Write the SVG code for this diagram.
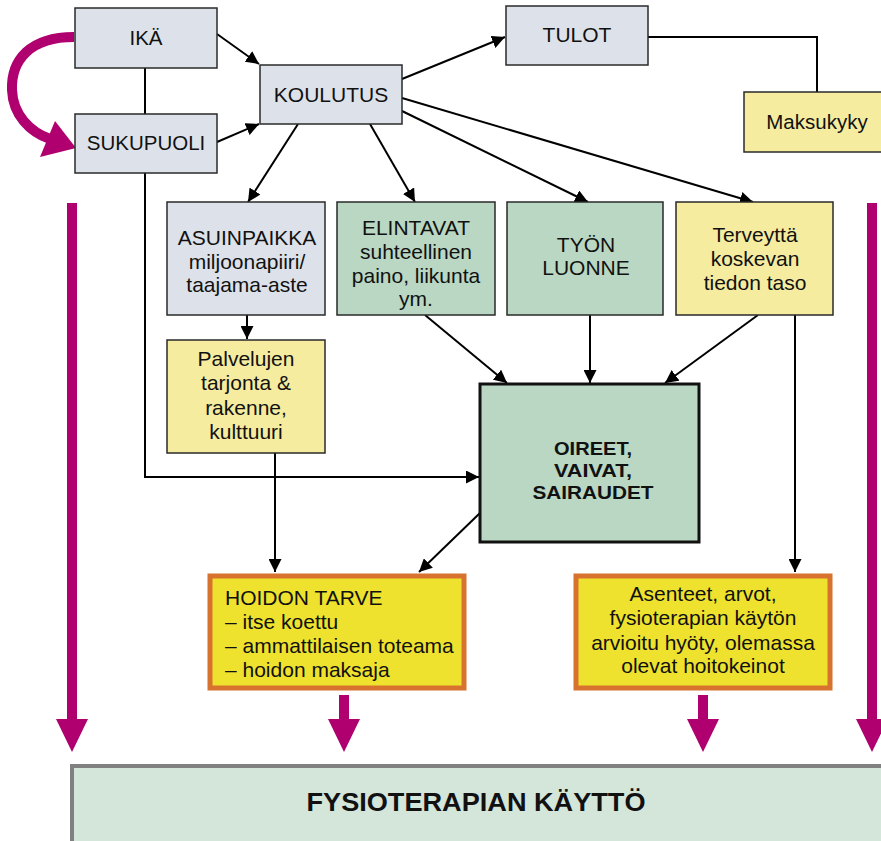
<svg xmlns="http://www.w3.org/2000/svg" width="881" height="841" viewBox="0 0 881 841">
<defs>
<style>
.box{stroke:#2a2a2a;stroke-width:1.5}
.blue{fill:#dde2ea}
.green{fill:#b9d7c2}
.pale{fill:#f5eca0}
.hot{fill:#eee22e;stroke:#d8732f;stroke-width:5}
.t{font-family:"Liberation Sans",Arial,sans-serif;font-size:21px;fill:#111;text-anchor:middle}
.s{font-size:20.5px}
.tl{text-anchor:start}
.b{font-weight:bold;font-size:19px}
.c{fill:none;stroke:#000;stroke-width:2}
.m{fill:none;stroke:#b0006f;stroke-width:10}
.mh{fill:#b0006f}
</style>
<marker id="ah" viewBox="0 0 10 10" refX="10" refY="5" markerWidth="6.5" markerHeight="6.5" markerUnits="strokeWidth" orient="auto">
<path d="M0,0 L10,5 L0,10 z" fill="#000"/>
</marker>
</defs>

<g id="connectors">
<line class="c" x1="217" y1="34" x2="259" y2="64" marker-end="url(#ah)"/>
<line class="c" x1="217" y1="142" x2="259" y2="124" marker-end="url(#ah)"/>
<line class="c" x1="145" y1="68" x2="145" y2="114"/>
<polyline class="c" points="145,173 145,477 479,477" marker-end="url(#ah)"/>
<line class="c" x1="298" y1="124" x2="248" y2="202" marker-end="url(#ah)"/>
<line class="c" x1="370" y1="124" x2="415" y2="202" marker-end="url(#ah)"/>
<line class="c" x1="402" y1="111" x2="588" y2="202" marker-end="url(#ah)"/>
<line class="c" x1="402" y1="98" x2="753" y2="202" marker-end="url(#ah)"/>
<line class="c" x1="402" y1="79" x2="505" y2="37" marker-end="url(#ah)"/>
<polyline class="c" points="648,37 817,37 817,92"/>
<line class="c" x1="247" y1="315" x2="247" y2="339" marker-end="url(#ah)"/>
<line class="c" x1="425" y1="315" x2="507" y2="383" marker-end="url(#ah)"/>
<line class="c" x1="590" y1="315" x2="590" y2="383" marker-end="url(#ah)"/>
<line class="c" x1="758" y1="315" x2="665" y2="383" marker-end="url(#ah)"/>
<line class="c" x1="795" y1="315" x2="795" y2="572" marker-end="url(#ah)"/>
<line class="c" x1="275" y1="453" x2="275" y2="572" marker-end="url(#ah)"/>
<line class="c" x1="480" y1="513" x2="419" y2="572" marker-end="url(#ah)"/>
<!-- magenta arrows -->
<path class="m" d="M74,37 C30,37 11,60 12,90 C13,115 30,132 50,139"/>
<polygon class="mh" points="76,148 40,157 55,121"/>
<line class="m" x1="72" y1="203" x2="72" y2="722"/>
<polygon class="mh" points="56,719 88,719 72,752"/>
<line class="m" x1="872" y1="203" x2="872" y2="722"/>
<polygon class="mh" points="856,719 888,719 872,752"/>
<line class="m" x1="344" y1="695" x2="344" y2="722"/>
<polygon class="mh" points="328,719 360,719 344,752"/>
<line class="m" x1="703" y1="695" x2="703" y2="722"/>
<polygon class="mh" points="687,719 719,719 703,752"/>
</g>

<g id="ika"><rect class="box blue" x="75" y="8" width="142" height="60"/><text class="t s" x="146" y="45">IKÄ</text></g>
<g id="sukupuoli"><rect class="box blue" x="75" y="114" width="142" height="59"/><text class="t s" x="146" y="150">SUKUPUOLI</text></g>
<g id="koulutus"><rect class="box blue" x="260" y="65" width="142" height="59"/><text class="t" x="331" y="102">KOULUTUS</text></g>
<g id="tulot"><rect class="box blue" x="506" y="6" width="142" height="59"/><text class="t" x="577" y="42">TULOT</text></g>
<g id="maksukyky"><rect class="box pale" x="744" y="92" width="140" height="60"/><text class="t s" x="817" y="129">Maksukyky</text></g>

<g id="asuinpaikka"><rect class="box blue" x="167" y="202" width="158" height="113"/>
<text class="t" x="247" y="245">ASUINPAIKKA</text><text class="t" x="247" y="269">miljoonapiiri/</text><text class="t" x="247" y="292">taajama-aste</text></g>
<g id="elintavat"><rect class="box green" x="337" y="202" width="158" height="113"/>
<text class="t" x="416" y="235">ELINTAVAT</text><text class="t" x="416" y="259">suhteellinen</text><text class="t" x="416" y="283">paino, liikunta</text><text class="t" x="416" y="306">ym.</text></g>
<g id="tyon"><rect class="box green" x="507" y="202" width="156" height="113"/>
<text class="t" x="586" y="252">TYÖN</text><text class="t" x="586" y="275">LUONNE</text></g>
<g id="terveytta"><rect class="box pale" x="676" y="202" width="157" height="113"/>
<text class="t" x="755" y="242">Terveyttä</text><text class="t" x="755" y="266">koskevan</text><text class="t" x="755" y="290">tiedon taso</text></g>

<g id="palvelujen"><rect class="box pale" x="167" y="340" width="158" height="113"/>
<text class="t" x="246" y="366">Palvelujen</text><text class="t" x="246" y="390">tarjonta &amp;</text><text class="t" x="246" y="415">rakenne,</text><text class="t" x="246" y="439">kulttuuri</text></g>

<g id="oireet"><rect x="480" y="384" width="219" height="158" fill="#b9d7c2" stroke="#111" stroke-width="3"/>
<text class="t b" x="593" y="455" textLength="78" lengthAdjust="spacingAndGlyphs">OIREET,</text><text class="t b" x="593" y="477" textLength="78" lengthAdjust="spacingAndGlyphs">VAIVAT,</text><text class="t b" x="593" y="499" textLength="121" lengthAdjust="spacingAndGlyphs">SAIRAUDET</text></g>

<g id="hoidon"><rect class="hot" x="210" y="576" width="254" height="112"/>
<text class="t tl" x="225" y="605">HOIDON TARVE</text><text class="t tl" x="225" y="629">– itse koettu</text><text class="t tl" x="225" y="653">– ammattilaisen toteama</text><text class="t tl" x="225" y="677">– hoidon maksaja</text></g>

<g id="asenteet"><rect class="hot" x="576" y="576" width="254" height="112"/>
<text class="t" x="703" y="601">Asenteet, arvot,</text><text class="t" x="703" y="625">fysioterapian käytön</text><text class="t" x="703" y="650">arvioitu hyöty, olemassa</text><text class="t" x="703" y="673">olevat hoitokeinot</text></g>

<g id="kaytto"><rect x="72" y="766" width="815" height="78" fill="#d4e5da" stroke="#808080" stroke-width="4"/>
<text class="t" x="476" y="811" style="font-weight:bold;font-size:26px" textLength="339" lengthAdjust="spacingAndGlyphs">FYSIOTERAPIAN KÄYTTÖ</text></g>
</svg>
